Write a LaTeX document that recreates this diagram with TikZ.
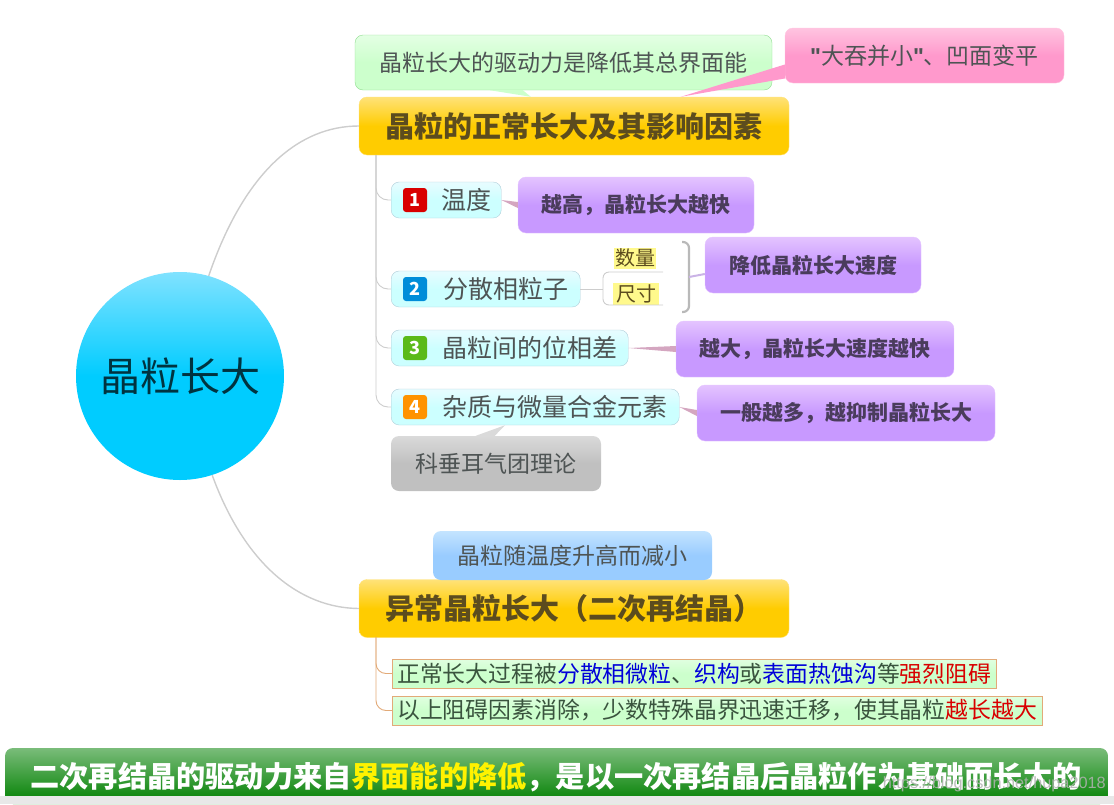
\documentclass[tikz,border=0pt]{standalone}
\usepackage{fontspec}
\usepackage{xcolor}
\setmainfont{Noto Sans CJK SC}
\newfontfamily\wmfont{Liberation Sans}
\newcommand{\fs}[1]{\fontsize{#1}{#1}\selectfont}
\definecolor{rootTop}{RGB}{128,226,255}
\definecolor{rootLow}{RGB}{0,204,255}
\definecolor{mainTop}{RGB}{255,226,120}
\definecolor{mainLow}{RGB}{255,204,0}
\definecolor{subTop}{RGB}{232,252,255}
\definecolor{subLow}{RGB}{204,255,255}
\definecolor{plumTop}{RGB}{228,196,255}
\definecolor{plumLow}{RGB}{200,153,255}
\definecolor{leafTop}{RGB}{228,255,228}
\definecolor{leafLow}{RGB}{204,255,204}
\definecolor{roseTop}{RGB}{255,196,224}
\definecolor{roseLow}{RGB}{255,153,204}
\definecolor{ashTop}{RGB}{218,218,218}
\definecolor{ashLow}{RGB}{192,192,192}
\definecolor{skyTop}{RGB}{196,228,255}
\definecolor{skyLow}{RGB}{153,204,255}
\definecolor{inkMain}{RGB}{92,76,30}
\definecolor{inkSub}{RGB}{78,84,84}
\definecolor{inkPlum}{RGB}{74,60,92}
\definecolor{inkReason}{RGB}{58,84,62}
\definecolor{lineGray}{RGB}{205,205,205}
\definecolor{lineTan}{RGB}{226,170,120}
\definecolor{wedgeTint}{RGB}{212,166,192}
\definecolor{barGreen}{RGB}{0,128,0}
\definecolor{barTop}{RGB}{122,188,122}
\tikzset{
	grad/.style 2 args={top color=#1, bottom color=#2, middle color=#2},
	roundbox/.style={rectangle, rounded corners=8pt, inner sep=0pt},
	maintopic/.style={roundbox, grad={mainTop}{mainLow}, draw=mainTop, minimum width=430, minimum height=58, text=inkMain, font=\fs{29}\bfseries},
	subtopic/.style={roundbox, grad={subTop}{subLow}, draw=cyan!20!lineGray, anchor=west, minimum height=36, inner xsep=10pt, text=inkSub, font=\fs{25}},
	note/.style={roundbox, grad={plumTop}{plumLow}, draw=plumTop, minimum height=56, text=inkPlum, font=\fs{21}\bfseries},
	bubble/.style={roundbox, minimum height=55, text=inkSub, font=\fs{23}},
	numicon/.style={rectangle, rounded corners=3pt, minimum size=24, inner sep=0pt, text=white, font=\fs{18}\bfseries},
	tagbox/.style={rectangle, fill=yellow!45, inner sep=0pt, text=inkMain, font=\fs{20}},
	reason/.style={rectangle, grad={leafLow!60!white}{leafLow}, draw=lineTan, anchor=west, inner sep=0pt, minimum height=29, inner xsep=5pt, text=inkReason, font=\fs{22.85}},
	trunk/.style={lineGray, line width=0.9pt},
	wedge/.style={fill=wedgeTint},
}
\begin{document}
\begin{tikzpicture}[x=1pt, y=-1pt]
	\useasboundingbox (0,0) rectangle (1114,804);
	\node[circle, minimum size=208, inner sep=0pt, grad={rootTop}{rootLow}, text=black!75!rootLow, font=\fs{40}] (root) at (180,376) {晶粒长大};
	\node[maintopic] (normal) at (574,126) {晶粒的正常长大及其影响因素};
	\node[maintopic] (abnormal) at (574,608.5) {异常晶粒长大（二次再结晶）};
	\draw[lineGray, line width=1.4pt] (root.74) .. controls (245,170) and (300,126) .. (normal.west);
	\draw[lineGray, line width=1.4pt] (root.-72) .. controls (245,565) and (300,608) .. (abnormal.west);
	\node[bubble, grad={leafTop}{leafLow}, draw=green!30!lineGray, minimum width=417] (drive) at (563.5,62.5) {晶粒长大的驱动力是降低其总界面能};
	\node[bubble, grad={roseTop}{roseLow}, draw=roseTop, minimum width=279] (swallow) at (924.5,55.5) {{\wmfont\bfseries"}大吞并小{\wmfont\bfseries"}、凹面变平};
	\fill[leafLow] ([xshift=135pt]drive.south west) -- ([xshift=168pt]drive.south west) -- ([xshift=172pt]normal.north west) -- cycle;
	\fill[roseLow] ([yshift=-9pt]swallow.west) -- ([yshift=-23pt]swallow.west) -- ([xshift=322pt]normal.north west) -- cycle;
	\coordinate (trunkA) at (376,155);
	\foreach \n/\y/\w/\t in {temp/200/110/温度, disperse/289/189/分散相粒子, misfit/348/237/晶粒间的位相差, impurity/407/288/杂质与微量合金元素}{
		\draw[trunk, rounded corners=12pt] (trunkA) |- (391,\y);
		\node[subtopic, minimum width=\w] (\n) at (391,\y) {\hspace*{40pt}\t};
	}
	\foreach \n/\k/\c in {temp/1/red!85!black, disperse/2/blue!35!cyan!85!black, misfit/3/green!60!yellow!70!black!90!white, impurity/4/orange!85!yellow}{
		\node[numicon, fill=\c] (icon\k) at ([xshift=24pt]\n.west) {\k};
	}
	\node[note, minimum width=236] (tempnote) at (636,205) {越高，晶粒长大越快};
	\node[note, minimum width=216] (speednote) at (813,265) {降低晶粒长大速度};
	\node[note, minimum width=278] (misfitnote) at (815,349) {越大，晶粒长大速度越快};
	\node[note, minimum width=298] (impuritynote) at (846,413) {一般越多，越抑制晶粒长大};
	\foreach \a/\b in {temp/tempnote, misfit/misfitnote, impurity/impuritynote}{
		\fill[wedge] (\a.east) -- ([yshift=3pt]\b.west) -- ([yshift=-3pt]\b.west) -- cycle;
	}
	\node[tagbox, minimum width=42, minimum height=21] (count) at (635,258) {数量};
	\node[tagbox, minimum width=46, minimum height=22] (size) at (636,294) {尺寸};
	\coordinate (forkA) at (603,289);
	\coordinate (countEnd) at (663,272);
	\coordinate (sizeEnd) at (663,305);
	\draw[trunk] (disperse.east) -- (forkA);
	\draw[trunk, rounded corners=6pt] (countEnd) -| (forkA) |- (sizeEnd);
	\coordinate (braceTop) at (682,242);
	\coordinate (braceMid) at (689,277);
	\coordinate (braceLow) at (682,312);
	\draw[lineGray!90!black, line width=2.2pt, rounded corners=6pt] (braceTop) -| (braceMid) |- (braceLow);
	\draw[lineGray!50!plumLow, line width=2pt] (braceMid) -- (speednote.west |- 0,274);
	\node[bubble, grad={ashTop}{ashLow}, minimum width=210] (cottrell) at (496,463.5) {科垂耳气团理论};
	\fill[ashTop] ([xshift=85pt]cottrell.north west) -- ([xshift=104pt]cottrell.north west) -- ([xshift=114pt]impurity.south west) -- cycle;
	\node[bubble, grad={skyTop}{skyLow}, minimum width=279, minimum height=49] (shrink) at (572.5,555.5) {晶粒随温度升高而减小};
	\coordinate (trunkB) at (376,637);
	\node[reason] (block) at (392,673.5) {正常长大过程被\textcolor{blue!85!black}{分散相微粒}、\textcolor{blue!85!black}{织构}或\textcolor{blue!85!black}{表面热蚀沟}等\textcolor{red!85!black}{强烈阻碍}};
	\node[reason] (vanish) at (392,710.5) {以上阻碍因素消除，少数特殊晶界迅速迁移，使其晶粒\textcolor{red!85!black}{越长越大}};
	\foreach \n in {block, vanish}{
		\draw[lineTan, line width=0.9pt, rounded corners=10pt] (trunkB) |- (\n.west);
	}
	\shade[top color=barTop, middle color=barGreen, bottom color=barGreen, rounded corners=8pt] (5,804) -- (5,748) -- (1108,748) -- (1108,804) -- cycle;
	\fill[black!9] (0,796) rectangle (1114,804);
	\node[text=white, font=\fs{29.2}\bfseries, inner sep=0pt] (summary) at (556,777) {二次再结晶的驱动力来自\textcolor{yellow}{界面能的降低}，是以一次再结晶后晶粒作为基础而长大的};
	\node[text=white!70!black, opacity=0.85, font=\wmfont\fs{16.3}, inner sep=0pt, anchor=east] (mark) at (1106,784) {https://blog.csdn.net/hupa2018};
\end{tikzpicture}
\end{document}
